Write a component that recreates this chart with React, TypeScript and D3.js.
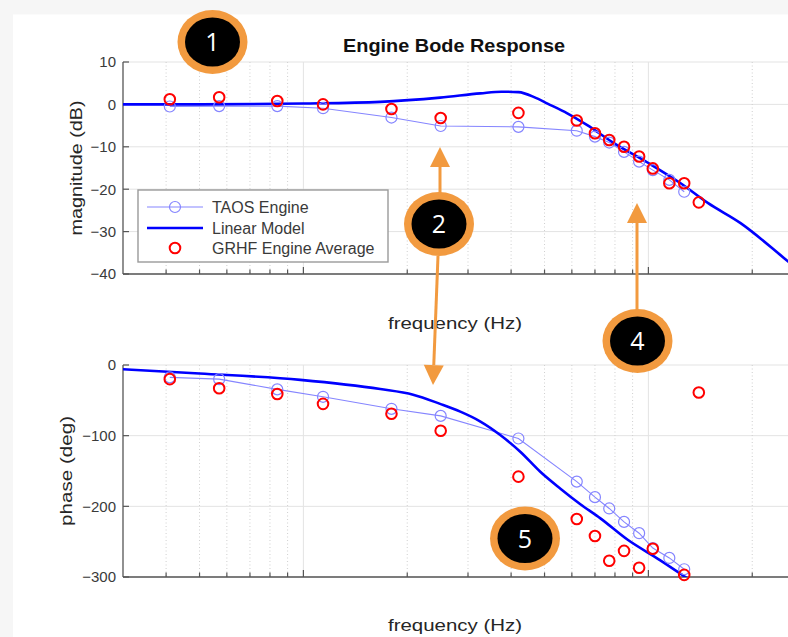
import React from 'react';
import * as d3 from 'd3';

const WIDTH = 788;
const HEIGHT = 637;

// TAOS engine test points (Hz, dB, deg)
const taosFreq = [0.41, 0.57, 0.84, 1.14, 1.8, 2.5, 4.2, 6.2, 7.0, 7.7, 8.5, 9.4, 10.3, 11.5, 12.7];
const taosMag = [-0.5, -0.4, -0.4, -0.9, -3.1, -5.1, -5.3, -6.2, -7.6, -9.0, -11.2, -13.5, -15.5, -17.8, -20.6];
const taosPhase = [-17.5, -20, -34.5, -45, -62, -72, -104, -165, -187, -203, -222, -238, -259, -273, -289];

// GRHF engine averaged points (Hz, dB, deg)
const grhfFreq = [0.41, 0.57, 0.84, 1.14, 1.8, 2.5, 4.2, 6.2, 7.0, 7.7, 8.5, 9.4, 10.3, 11.5, 12.7, 14.0];
const grhfMag = [1.2, 1.7, 0.8, 0, -1.1, -3.2, -2.0, -3.8, -6.8, -8.4, -10.0, -12.3, -15.1, -18.6, -18.6, -23.1];
const grhfPhase = [-20, -33, -41, -55, -69, -93, -158, -218, -242, -277, -263, -287, -260, -318, -297, -39];

// Linear model response
const modelMagFreq = [0.3, 0.5, 1.0, 1.67, 2.49, 3.26, 3.75, 4.2, 4.7, 5.1, 5.82, 6.65, 7.9, 9.94, 12.4, 14.9, 18.5, 24.6, 30];
const modelMag = [0, 0, 0.2, 0.6, 1.6, 2.6, 3.0, 2.9, 1.6, 0.2, -2.1, -4.9, -9.0, -13.7, -18.6, -23.3, -28, -36.1, -42];
const modelPhaseFreq = [0.3, 0.5, 0.98, 1.67, 2.08, 2.49, 2.85, 3.26, 3.72, 4.26, 4.86, 5.56, 6.35, 7.26, 8.69, 10.8, 12.8, 14.1];
const modelPhase = [-6, -12, -21, -34, -42, -55, -66, -80, -99, -123, -151, -175, -197, -217, -247, -276, -300, -314];

// Axis ticks
const magTicks = [10, 0, -10, -20, -30, -40];
const phaseTicks = [0, -100, -200, -300];
const freqDomain: [number, number] = [0.3, 30];

// Legend entries
const legendLabels = ['TAOS Engine', 'Linear Model', 'GRHF Engine Average'];

// Numbered callouts
const callouts = [
  { label: '1', cx: 212.5, cy: 42 },
  { label: '2', cx: 439, cy: 224 },
  { label: '4', cx: 637.5, cy: 341 },
  { label: '5', cx: 525, cy: 538.5 },
];
const arrows = [
  { x1: 440, y1: 194, x2: 440, y2: 147 },
  { x1: 438, y1: 256, x2: 433, y2: 385 },
  { x1: 637, y1: 310, x2: 637, y2: 203 },
];

const FONT = 'Liberation Sans, Arial, Helvetica, sans-serif';
const TEXT = '#262626';
const GRID = '#e3e3e3';
const MINOR = '#cfcfcf';
const AXIS = '#555555';
const LIGHT_BLUE = '#8585ff';
const BLUE = '#0000ff';
const RED = '#ff0000';
const ORANGE = '#f29a3f';

const X0 = 123;
const X1 = 813;

const x = d3.scaleLog().domain(freqDomain).range([X0, X1]);
const yMag = d3.scaleLinear().domain([-40, 10]).range([274, 62]);
const yPh = d3.scaleLinear().domain([-300, 0]).range([577, 365]);

// decade ticks inside the frequency domain
const freqTicks: { v: number; major: boolean }[] = [];
[0.1, 1, 10].forEach((d) => {
  for (let m = 1; m <= 9; m++) {
    const v = +(m * d).toFixed(6);
    if (v > freqDomain[0] + 1e-9 && v <= freqDomain[1] + 1e-9) freqTicks.push({ v, major: m === 1 });
  }
});

const fmt = (v: number) => (v < 0 ? '\u2212' + Math.abs(v) : String(v));

type Panel = {
  id: string;
  y: d3.ScaleLinear<number, number>;
  ticks: number[];
  taos: number[];
  grhf: number[];
  modelF: number[];
  model: number[];
  ylabel: string;
  ylabelX: number;
  ylabelLen: number;
  xlabelY: number;
};

const panels: Panel[] = [
  {
    id: 'mag', y: yMag, ticks: magTicks, taos: taosMag, grhf: grhfMag,
    modelF: modelMagFreq, model: modelMag, ylabel: 'magnitude (dB)', ylabelX: 82, ylabelLen: 135, xlabelY: 329,
  },
  {
    id: 'ph', y: yPh, ticks: phaseTicks, taos: taosPhase, grhf: grhfPhase,
    modelF: modelPhaseFreq, model: modelPhase, ylabel: 'phase (deg)', ylabelX: 72, ylabelLen: 110, xlabelY: 631,
  },
];

function PanelView({ p }: { p: Panel }) {
  const [yB, yT] = p.y.range();
  const [dMin, dMax] = p.y.domain();
  const inside = (f: number, v: number) => f >= freqDomain[0] && f <= freqDomain[1] && v >= dMin && v <= dMax;

  const line = d3
    .line<[number, number]>()
    .x((d) => x(d[0]))
    .y((d) => p.y(d[1]))
    .curve(d3.curveMonotoneX);
  const thin = d3.line<[number, number]>().x((d) => x(d[0])).y((d) => p.y(d[1]));

  const modelPts = p.modelF.map((f, i) => [f, p.model[i]] as [number, number]);
  const taosPts = taosFreq.map((f, i) => [f, p.taos[i]] as [number, number]);
  const grhfPts = grhfFreq.map((f, i) => [f, p.grhf[i]] as [number, number]);
  const cx = (X0 + X1) / 2 - 13;

  return (
    <g>
      <defs>
        <clipPath id={`clip-${p.id}`}>
          <rect x={X0} y={yT} width={X1 - X0} height={yB - yT} />
        </clipPath>
      </defs>
      {/* grid */}
      {p.ticks.map((t) => (
        <line key={`h${t}`} x1={X0} x2={X1} y1={p.y(t)} y2={p.y(t)} stroke={GRID} strokeWidth={1} />
      ))}
      {freqTicks.map((t) => (
        <line
          key={`v${t.v}`}
          x1={x(t.v)}
          x2={x(t.v)}
          y1={yT}
          y2={yB}
          stroke={t.major ? GRID : MINOR}
          strokeWidth={1}
          strokeDasharray={t.major ? undefined : '1,2.5'}
        />
      ))}
      {/* axes */}
      <line x1={X0} x2={X0} y1={yT} y2={yB} stroke={AXIS} strokeWidth={1.3} />
      <line x1={X0} x2={X1} y1={yB} y2={yB} stroke={AXIS} strokeWidth={1.6} />
      {p.ticks.map((t) => (
        <g key={`yt${t}`}>
          <line x1={X0} x2={X0 + 6} y1={p.y(t)} y2={p.y(t)} stroke={AXIS} strokeWidth={1.2} />
          <text
            x={X0 - 7}
            y={p.y(t)}
            dy="0.36em"
            textAnchor="end"
            fontFamily={FONT}
            fontSize={15}
            fill="#3a3a3a"
          >
            {fmt(t)}
          </text>
        </g>
      ))}
      {freqTicks.map((t) => (
        <line
          key={`xt${t.v}`}
          x1={x(t.v)}
          x2={x(t.v)}
          y1={yB}
          y2={yB - (t.major ? 7 : 4.5)}
          stroke={AXIS}
          strokeWidth={1.2}
        />
      ))}
      {/* series */}
      <g clipPath={`url(#clip-${p.id})`}>
        <path d={thin(taosPts) || ''} fill="none" stroke={LIGHT_BLUE} strokeWidth={1.1} />
        <path d={line(modelPts) || ''} fill="none" stroke={BLUE} strokeWidth={2.6} />
      </g>
      {taosPts
        .filter((d) => inside(d[0], d[1]))
        .map((d, i) => (
          <circle key={`t${i}`} cx={x(d[0])} cy={p.y(d[1])} r={5.5} fill="none" stroke={LIGHT_BLUE} strokeWidth={1.2} />
        ))}
      {grhfPts
        .filter((d) => inside(d[0], d[1]))
        .map((d, i) => (
          <circle key={`g${i}`} cx={x(d[0])} cy={p.y(d[1])} r={5.3} fill="none" stroke={RED} strokeWidth={2} />
        ))}
      {/* labels */}
      <text
        transform={`translate(${p.ylabelX},${(yT + yB) / 2}) rotate(-90)`}
        textAnchor="middle"
        fontFamily={FONT}
        fontSize={17}
        fill={TEXT}
        textLength={p.ylabelLen}
        lengthAdjust="spacingAndGlyphs"
      >
        {p.ylabel}
      </text>
      <text
        x={cx}
        y={p.xlabelY}
        textAnchor="middle"
        fontFamily={FONT}
        fontSize={17}
        fill={TEXT}
        textLength={134}
        lengthAdjust="spacingAndGlyphs"
      >
        frequency (Hz)
      </text>
    </g>
  );
}

function Legend() {
  const lx = 138;
  const ly = 190;
  const rows = [207, 228, 248];
  const sx0 = 147;
  const sx1 = 203;
  const mid = (sx0 + sx1) / 2;
  return (
    <g>
      <rect x={lx} y={ly} width={250} height={72} fill="#ffffff" stroke="#9a9a9a" strokeWidth={1.4} />
      <line x1={sx0} x2={sx1} y1={rows[0]} y2={rows[0]} stroke={LIGHT_BLUE} strokeWidth={1.1} />
      <circle cx={mid} cy={rows[0]} r={5.5} fill="none" stroke={LIGHT_BLUE} strokeWidth={1.2} />
      <line x1={sx0} x2={sx1} y1={rows[1]} y2={rows[1]} stroke={BLUE} strokeWidth={2.6} />
      <circle cx={mid} cy={rows[2]} r={5.3} fill="none" stroke={RED} strokeWidth={2} />
      {legendLabels.map((s, i) => (
        <text key={s} x={212} y={rows[i]} dy="0.36em" fontFamily={FONT} fontSize={16} fill="#3a3a3a">
          {s}
        </text>
      ))}
    </g>
  );
}

function Callouts() {
  return (
    <g>
      {arrows.map((a, i) => {
        const dx = a.x2 - a.x1;
        const dy = a.y2 - a.y1;
        const len = Math.hypot(dx, dy);
        const ux = dx / len;
        const uy = dy / len;
        const head = 20;
        const half = 10;
        const bx = a.x2 - ux * head;
        const by = a.y2 - uy * head;
        const pts = [
          [a.x2, a.y2],
          [bx - uy * half, by + ux * half],
          [bx + uy * half, by - ux * half],
        ]
          .map((q) => q.join(','))
          .join(' ');
        return (
          <g key={i}>
            <line x1={a.x1} y1={a.y1} x2={bx} y2={by} stroke={ORANGE} strokeWidth={3} />
            <polygon points={pts} fill={ORANGE} />
          </g>
        );
      })}
      {callouts.map((c) => (
        <g key={c.label}>
          <ellipse cx={c.cx} cy={c.cy} rx={35} ry={32} fill={ORANGE} />
          <ellipse cx={c.cx} cy={c.cy} rx={27.5} ry={24.5} fill="#000000" />
          <text
            x={c.cx}
            y={c.cy}
            dy="0.36em"
            textAnchor="middle"
            fontFamily="Open Sans, Liberation Sans, sans-serif"
            fontSize={25}
            fill="#ffffff"
          >
            {c.label}
          </text>
        </g>
      ))}
    </g>
  );
}

export default function App() {
  return (
    <svg
      width={WIDTH}
      height={HEIGHT}
      viewBox={`0 0 ${WIDTH} ${HEIGHT}`}
      style={{ position: 'absolute', left: 0, top: 0, display: 'block' }}
    >
      <rect x={0} y={0} width={WIDTH} height={HEIGHT} fill="#f6f6f6" />
      <rect x={13} y={14.5} width={WIDTH - 13} height={HEIGHT - 14.5} fill="#ffffff" />
      <text
        x={454}
        y={52}
        textAnchor="middle"
        fontFamily={FONT}
        fontWeight="bold"
        fontSize={18}
        fill="#111111"
        textLength={222}
        lengthAdjust="spacingAndGlyphs"
      >
        Engine Bode Response
      </text>
      {panels.map((p) => (
        <PanelView key={p.id} p={p} />
      ))}
      <Legend />
      <Callouts />
    </svg>
  );
}
